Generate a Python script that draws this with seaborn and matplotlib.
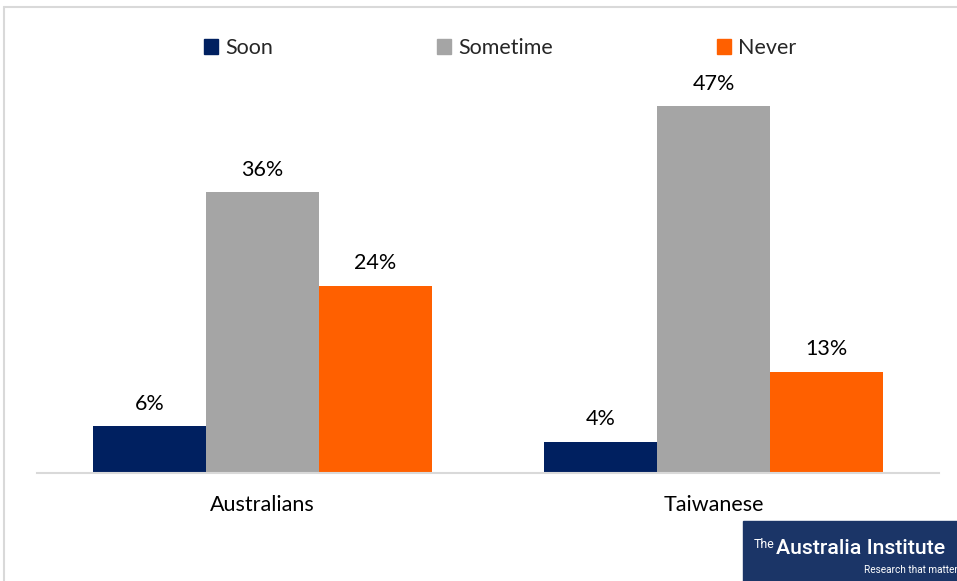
import matplotlib
matplotlib.use("Agg")
import matplotlib.pyplot as plt
from matplotlib.patches import Rectangle
import seaborn as sns
import pandas as pd

groups = ["Australians", "Taiwanese"]
series = ["Soon", "Sometime", "Never"]
soon = [6, 4]
sometime = [36, 47]
never = [24, 13]
colors = ["#002060", "#A5A5A5", "#FF6000"]

df = pd.DataFrame({
    "group": groups * 3,
    "answer": [s for s in series for _ in groups],
    "value": soon + sometime + never,
})

sns.set_theme(style="white")
plt.rcParams["font.family"] = ["Lato", "DejaVu Sans"]
FS = 15.5

fig = plt.figure(figsize=(9.57, 5.81), dpi=100)
W, H = 957, 581
ax = fig.add_axes([37 / W, 1 - 473 / H, (939 - 37) / W, (473 - 83) / H])

sns.barplot(data=df, x="group", y="value", hue="answer", hue_order=series,
            palette=colors, width=0.75, saturation=1, ax=ax, legend=False,
            edgecolor="none")

ax.set_xlim(-0.5, 1.5)
ax.set_ylim(0, 50)
ax.set_yticks([])
ax.set_xlabel("")
ax.set_ylabel("")
for s in ["top", "right", "left"]:
    ax.spines[s].set_visible(False)
ax.spines["bottom"].set_color("#D9D9D9")
ax.spines["bottom"].set_linewidth(1.5)
ax.tick_params(axis="x", length=0, pad=16, labelsize=FS, labelcolor="#000000")

for cont in ax.containers:
    labels = [f"{v:.0f}%" for v in cont.datavalues]
    ax.bar_label(cont, labels=labels, padding=9, fontsize=FS, color="#000000")

# legend
handles = [Rectangle((0, 0), 1, 1, color=c) for c in colors]
fig.legend(handles, series, loc="center", bbox_to_anchor=(500 / W, 1 - 48 / H),
           ncol=3, frameon=False, fontsize=FS, handlelength=0.65,
           handleheight=0.65, handletextpad=0.35, columnspacing=7.6)

# outer frame
fig.add_artist(plt.Line2D([4 / W, 1], [1 - 7 / H, 1 - 7 / H],
                          transform=fig.transFigure, color="#D9D9D9", lw=1.5))
fig.add_artist(plt.Line2D([4 / W, 4 / W], [0, 1 - 7 / H],
                          transform=fig.transFigure, color="#D9D9D9", lw=1.5))

# institute badge
fig.add_artist(Rectangle((743 / W, 0), (W - 743) / W, 60 / H,
                         transform=fig.transFigure, color="#1B3567", zorder=5))

renderer = fig.canvas.get_renderer()


def fitted_text(x, y, s, width_px, size, **kw):
    t = fig.text(x / W, 1 - y / H, s, color="white", fontsize=size,
                 va="center", zorder=6, **kw)
    w = t.get_window_extent(renderer).width
    t.set_fontsize(size * width_px / w)
    return t


fitted_text(754, 545, "The", 21, 9, family="Roboto")
fitted_text(776, 549, "Australia Institute", 170, 16, family="Roboto",
            weight="medium")
fitted_text(864, 570, "Research that matter", 93, 8, family="Roboto")

fig.savefig("out.png", dpi=100, facecolor="white")
